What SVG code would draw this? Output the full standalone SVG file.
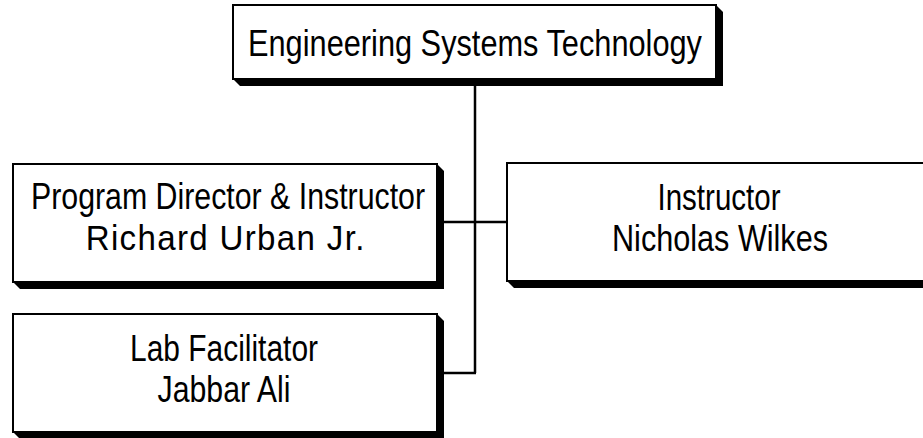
<svg xmlns="http://www.w3.org/2000/svg" width="923" height="438" viewBox="0 0 923 438">
<style>
.box{fill:#fff;stroke:#000;stroke-width:2}
.shadow{fill:#000}
.t{font-family:"Liberation Sans",Arial,sans-serif;font-size:36px;fill:#000;text-anchor:middle}
.conn{stroke:#000;stroke-width:2.5;fill:none}
</style>
<rect width="923" height="438" fill="#fff"/>
<g id="connectors">
<line class="conn" x1="475" y1="80" x2="475" y2="373"/>
<line class="conn" x1="444" y1="222" x2="507" y2="222"/>
<line class="conn" x1="444" y1="373" x2="476" y2="373"/>
</g>
<g id="node-engineering">
<polygon class="shadow" points="716,5 723,12 723,86 240,86 233,79"/>
<rect class="box" x="233" y="5" width="483" height="74"/>
<text class="t" x="475" y="56" textLength="454" lengthAdjust="spacingAndGlyphs">Engineering Systems Technology</text>
</g>
<g id="node-director">
<polygon class="shadow" points="437,164 444,171 444,289 20,289 13,282"/>
<rect class="box" x="13" y="164" width="424" height="118"/>
<text class="t" x="228" y="209" textLength="394" lengthAdjust="spacingAndGlyphs">Program Director &amp; Instructor</text>
<text class="t" transform="scale(0.92 1)" x="244.6" y="250" textLength="303" lengthAdjust="spacing">Richard Urban Jr.</text>
</g>
<g id="node-instructor">
<polygon class="shadow" points="933,163 940,170 940,288 514,288 507,281"/>
<rect class="box" x="507" y="163" width="426" height="118"/>
<text class="t" x="719" y="210" textLength="123" lengthAdjust="spacingAndGlyphs">Instructor</text>
<text class="t" x="720" y="251" textLength="216" lengthAdjust="spacingAndGlyphs">Nicholas Wilkes</text>
</g>
<g id="node-lab">
<polygon class="shadow" points="437,314 444,321 444,439 20,439 13,432"/>
<rect class="box" x="13" y="314" width="424" height="118"/>
<text class="t" x="224" y="361" textLength="188" lengthAdjust="spacingAndGlyphs">Lab Facilitator</text>
<text class="t" x="224" y="402" textLength="133" lengthAdjust="spacingAndGlyphs">Jabbar Ali</text>
</g>
</svg>
